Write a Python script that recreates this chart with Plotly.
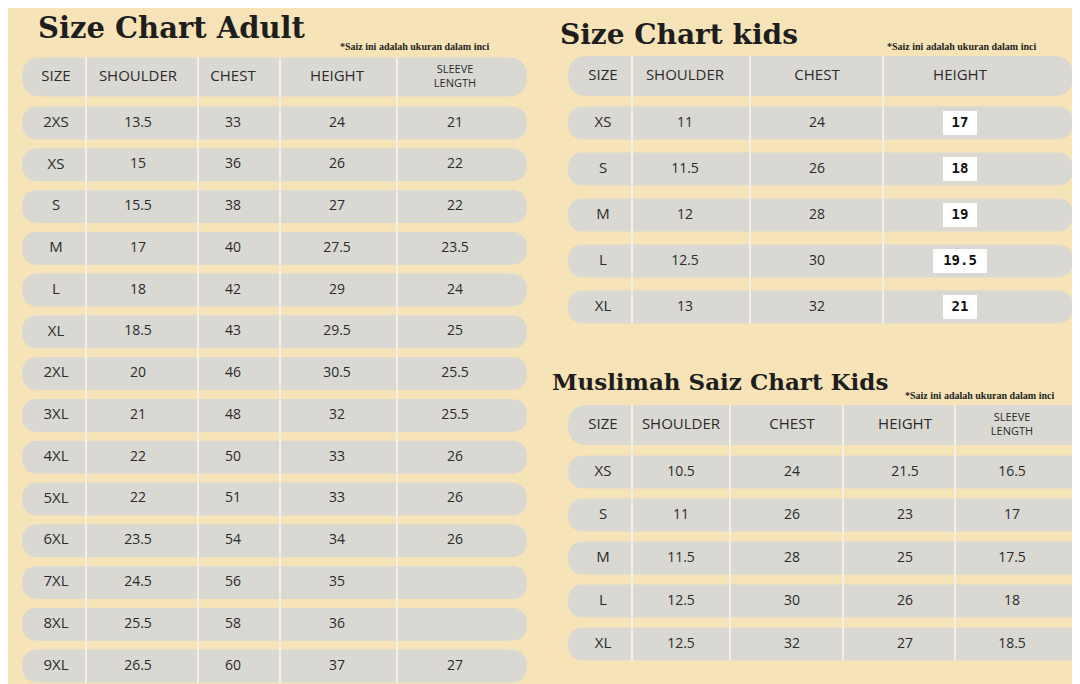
import plotly.graph_objects as go

# ---- data ----
adult_cols = ["SIZE", "SHOULDER", "CHEST", "HEIGHT", "SLEEVE<br>LENGTH"]
adult_sizes = ["2XS", "XS", "S", "M", "L", "XL", "2XL", "3XL", "4XL", "5XL", "6XL", "7XL", "8XL", "9XL"]
adult_shoulder = ["13.5", "15", "15.5", "17", "18", "18.5", "20", "21", "22", "22", "23.5", "24.5", "25.5", "26.5"]
adult_chest = ["33", "36", "38", "40", "42", "43", "46", "48", "50", "51", "54", "56", "58", "60"]
adult_height = ["24", "26", "27", "27.5", "29", "29.5", "30.5", "32", "33", "33", "34", "35", "36", "37"]
adult_sleeve = ["21", "22", "22", "23.5", "24", "25", "25.5", "25.5", "26", "26", "26", "", "", "27"]

kids_cols = ["SIZE", "SHOULDER", "CHEST", "HEIGHT"]
kids_sizes = ["XS", "S", "M", "L", "XL"]
kids_shoulder = ["11", "11.5", "12", "12.5", "13"]
kids_chest = ["24", "26", "28", "30", "32"]
kids_height = ["17", "18", "19", "19.5", "21"]

mus_cols = ["SIZE", "SHOULDER", "CHEST", "HEIGHT", "SLEEVE<br>LENGTH"]
mus_sizes = ["XS", "S", "M", "L", "XL"]
mus_shoulder = ["10.5", "11", "11.5", "12.5", "12.5"]
mus_chest = ["24", "26", "28", "30", "32"]
mus_height = ["21.5", "23", "25", "26", "27"]
mus_sleeve = ["16.5", "17", "17.5", "18", "18.5"]

BG = "#f6e4b8"
PILL = "#dad8d3"
TXT = "#2b2b2b"

fig = go.Figure()
shapes = []


def pill(x0, x1, yc, h):
    r = h / 2
    return dict(type="path", xref="x", yref="y", fillcolor=PILL, line=dict(width=0), layer="below",
                path=f"M{x0+r},{yc-r} L{x1-r},{yc-r} Q{x1},{yc-r} {x1},{yc} Q{x1},{yc+r} {x1-r},{yc+r} "
                     f"L{x0+r},{yc+r} Q{x0},{yc+r} {x0},{yc} Q{x0},{yc-r} {x0+r},{yc-r} Z")


def table(cols, columns, x0, x1, seps, centers, head_y, row0, step, row_h, head_h, mono_last=False):
    shapes.append(pill(x0, x1, head_y, head_h))
    n = len(columns[0])
    ys = [row0 + i * step for i in range(n)]
    for y in ys:
        shapes.append(pill(x0, x1, y, row_h))
    for s in seps:
        shapes.append(dict(type="line", xref="x", yref="y", x0=s, x1=s, y0=head_y - head_h / 2,
                           y1=ys[-1] + row_h / 2, line=dict(color="#f3efe6", width=2), layer="below"))
    for c, cx in zip(cols, centers):
        small = "<br>" in c
        fig.add_trace(go.Scatter(x=[cx], y=[head_y], mode="text", text=[c], hoverinfo="skip",
                                 textfont=dict(family="Open Sans", size=11 if small else 15, color=TXT)))
    for j, (vals, cx) in enumerate(zip(columns, centers)):
        if mono_last and j == len(columns) - 1:
            for v, y in zip(vals, ys):
                w = 14 + 10 * len(v)
                shapes.append(dict(type="rect", xref="x", yref="y", x0=cx - w / 2, x1=cx + w / 2,
                                   y0=y - 12, y1=y + 12, fillcolor="white", line=dict(width=0),
                                   layer="below"))
            fig.add_trace(go.Scatter(x=[cx] * n, y=ys, mode="text", text=[f"<b>{v}</b>" for v in vals],
                                     hoverinfo="skip",
                                     textfont=dict(family="DejaVu Sans Mono", size=14, color="#111")))
        else:
            fig.add_trace(go.Scatter(x=[cx] * n, y=ys, mode="text", text=vals, hoverinfo="skip",
                                     textfont=dict(family="Open Sans", size=15 if j == 0 else 14,
                                                   color=TXT)))


table(adult_cols, [adult_sizes, adult_shoulder, adult_chest, adult_height, adult_sleeve],
      22, 527, [86, 198, 280, 397], [56, 138, 233, 337, 455], 77, 123, 41.77, 33, 39)
table(kids_cols, [kids_sizes, kids_shoulder, kids_chest, kids_height],
      568, 1073, [632, 750, 883], [603, 685, 817, 960], 76, 123, 46, 33, 40, mono_last=True)
table(mus_cols, [mus_sizes, mus_shoulder, mus_chest, mus_height, mus_sleeve],
      568, 1090, [632, 730, 843, 955], [603, 681, 792, 905, 1012], 425, 472, 43, 33, 40)

titles = [("Size Chart Adult", 36, 28, 29), ("Size Chart kids", 558, 34, 28),
          ("Muslimah Saiz Chart Kids", 550, 381, 23)]
notes = [(338, 46), (885, 46), (903, 395)]
ann = [dict(x=x, y=y, xref="x", yref="y", text=f"<b>{t}</b>", showarrow=False, xanchor="left",
            font=dict(family="DejaVu Serif", size=s, color="#1e1e1e")) for t, x, y, s in titles]
ann += [dict(x=x, y=y, xref="x", yref="y", text="<b>*Saiz ini adalah ukuran dalam inci</b>",
             showarrow=False, xanchor="left", font=dict(family="Liberation Serif", size=10, color="#222"))
        for x, y in notes]

# page has an 8px body margin, so offset the axis ranges to keep pixel coordinates
fig.update_layout(width=1080, height=684, margin=dict(l=0, r=0, t=0, b=0), showlegend=False,
                  paper_bgcolor=BG, plot_bgcolor=BG, shapes=shapes, annotations=ann,
                  xaxis=dict(range=[8, 1088], visible=False, fixedrange=True),
                  yaxis=dict(range=[692, 8], visible=False, fixedrange=True))
fig.write_html("out.html")
